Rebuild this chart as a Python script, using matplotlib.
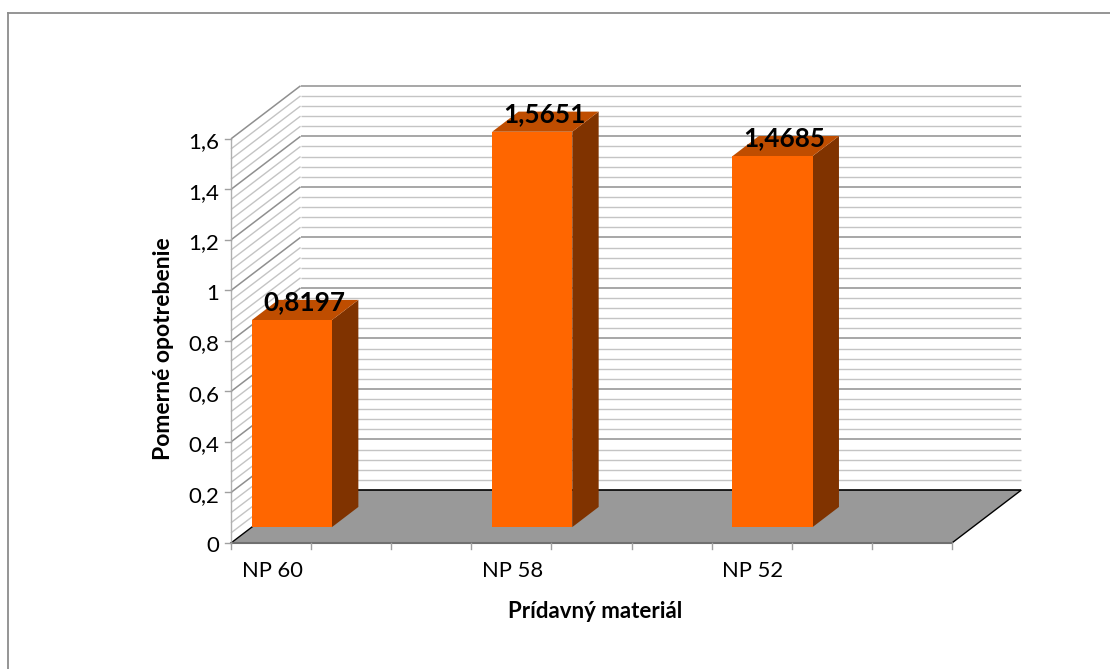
import matplotlib
matplotlib.use("Agg")
import matplotlib.pyplot as plt
from matplotlib.patches import Polygon, Rectangle

categories = ["NP 60", "NP 58", "NP 52"]
values = [0.8197, 1.5651, 1.4685]
value_labels = ["0,8197", "1,5651", "1,4685"]
y_ticks = [0, 0.2, 0.4, 0.6, 0.8, 1.0, 1.2, 1.4, 1.6]
y_tick_labels = ["0", "0,2", "0,4", "0,6", "0,8", "1", "1,2", "1,4", "1,6"]
minor_step = 0.04

W, H = 1110, 669
x0_px, y0_px = 231.0, 543.0      # pixel of the front left floor corner
slot_px = 80.1                   # one x unit
unit_px = 252.6                  # one y unit
depth_x_px, depth_y_px = 69.5, 53.0
n_slots = 9

plt.rcParams["font.family"] = ["Lato", "DejaVu Sans"]
fig = plt.figure(figsize=(W / 100, H / 100), dpi=100)
ax = fig.add_axes([0, 0, 1, 1])
ax.set_xlim(-x0_px / slot_px, (W - x0_px) / slot_px)
ax.set_ylim(-(H - y0_px) / unit_px, y0_px / unit_px)
ax.axis("off")

depth_x = depth_x_px / slot_px
depth_y = depth_y_px / unit_px


def project(x, y, d):
    # oblique projection: d=0 is the front plane, d=1 the back wall
    return (x + d * depth_x, y + d * depth_y)


def face(points, **kw):
    ax.add_patch(Polygon([project(*p) for p in points], closed=True, **kw))


def line3(a, b, **kw):
    pa, pb = project(*a), project(*b)
    ax.plot([pa[0], pb[0]], [pa[1], pb[1]], solid_capstyle="butt", **kw)


# chart frame, only the top and left edges fall inside the figure
frame_x, frame_y = 7.5 / W, 1 - 12.5 / H
ax.plot([frame_x, frame_x], [0, frame_y], transform=ax.transAxes, color="#8c8c8c", lw=1.3)
ax.plot([frame_x, 1], [frame_y, frame_y], transform=ax.transAxes, color="#8c8c8c", lw=1.3)

# wall grid lines, lighter for the minor steps
n_minor = int(round(y_ticks[-1] / minor_step))
for i in range(1, n_minor + 1):
    y = i * minor_step
    major = i % 5 == 0
    color = "#8f8f8f" if major else "#c4c4c4"
    lw = 1.1 if major else 1.0
    line3((0, y, 0), (0, y, 1), color=color, lw=lw, zorder=1)
    line3((0, y, 1), (n_slots, y, 1), color=color, lw=lw, zorder=1)

# floor
face([(0, 0, 0), (n_slots, 0, 0), (n_slots, 0, 1), (0, 0, 1)], fc="#999999", ec="none", zorder=2)
line3((0, 0, 0), (0, 0, 1), color="black", lw=1.0, zorder=3)
line3((0, 0, 1), (n_slots, 0, 1), color="black", lw=1.2, zorder=3)
line3((n_slots, 0, 0), (n_slots, 0, 1), color="black", lw=1.0, zorder=3)

# axes and ticks
ax.plot([0, 0], [0, y_ticks[-1]], color="#b0b0b0", lw=1.0, zorder=3)
ax.plot([0, n_slots], [0, 0], color="#707070", lw=1.5, zorder=3)
tick_x = 6 / slot_px
tick_y = 6 / unit_px
for y, lab in zip(y_ticks, y_tick_labels):
    ax.plot([-tick_x, 0], [y, y], color="#a0a0a0", lw=1.0, zorder=3)
    ax.text(-11.5 / slot_px, y - 3.5 / unit_px, lab, ha="right", va="center", fontsize=16, color="black")
for i in range(n_slots + 1):
    ax.plot([i, i], [-tick_y, 0], color="#a0a0a0", lw=1.0, zorder=3)

# bars
bar_front, bar_back = 0.3, 0.68
for i, (name, v, lab) in enumerate(zip(categories, values, value_labels)):
    left, right = 3 * i, 3 * i + 1
    face([(right, 0, bar_front), (right, v, bar_front), (right, v, bar_back), (right, 0, bar_back)],
         fc="#803300", ec="none", zorder=5)
    face([(left, v, bar_front), (right, v, bar_front), (right, v, bar_back), (left, v, bar_back)],
         fc="#bf4d00", ec="none", zorder=5)
    pf = project(left, 0, bar_front)
    pb = project(right, 0, bar_front)
    ax.add_patch(Rectangle(pf, pb[0] - pf[0], v, fc="#ff6600", ec="none", zorder=6))
    tx, ty = project(left + 0.5, v, (bar_front + bar_back) / 2)
    ax.text(tx - 1 / slot_px, ty + 8 / unit_px, lab, ha="center", va="center", fontsize=18.8,
            fontweight="bold", color="black", zorder=7)
    ax.text(i * 3 + 0.5 + 1 / slot_px, -28 / unit_px, name, ha="center", va="center", fontsize=15.8, color="black")

ax.text(595.5 / W, 1 - 612 / H, "Prídavný materiál", transform=ax.transAxes,
        ha="center", va="center", fontsize=16, fontweight="bold")
ax.text(163 / W, 1 - 349 / H, "Pomerné opotrebenie", transform=ax.transAxes, rotation=90,
        ha="center", va="center", fontsize=16.5, fontweight="bold")

fig.savefig("out.png", dpi=100)
